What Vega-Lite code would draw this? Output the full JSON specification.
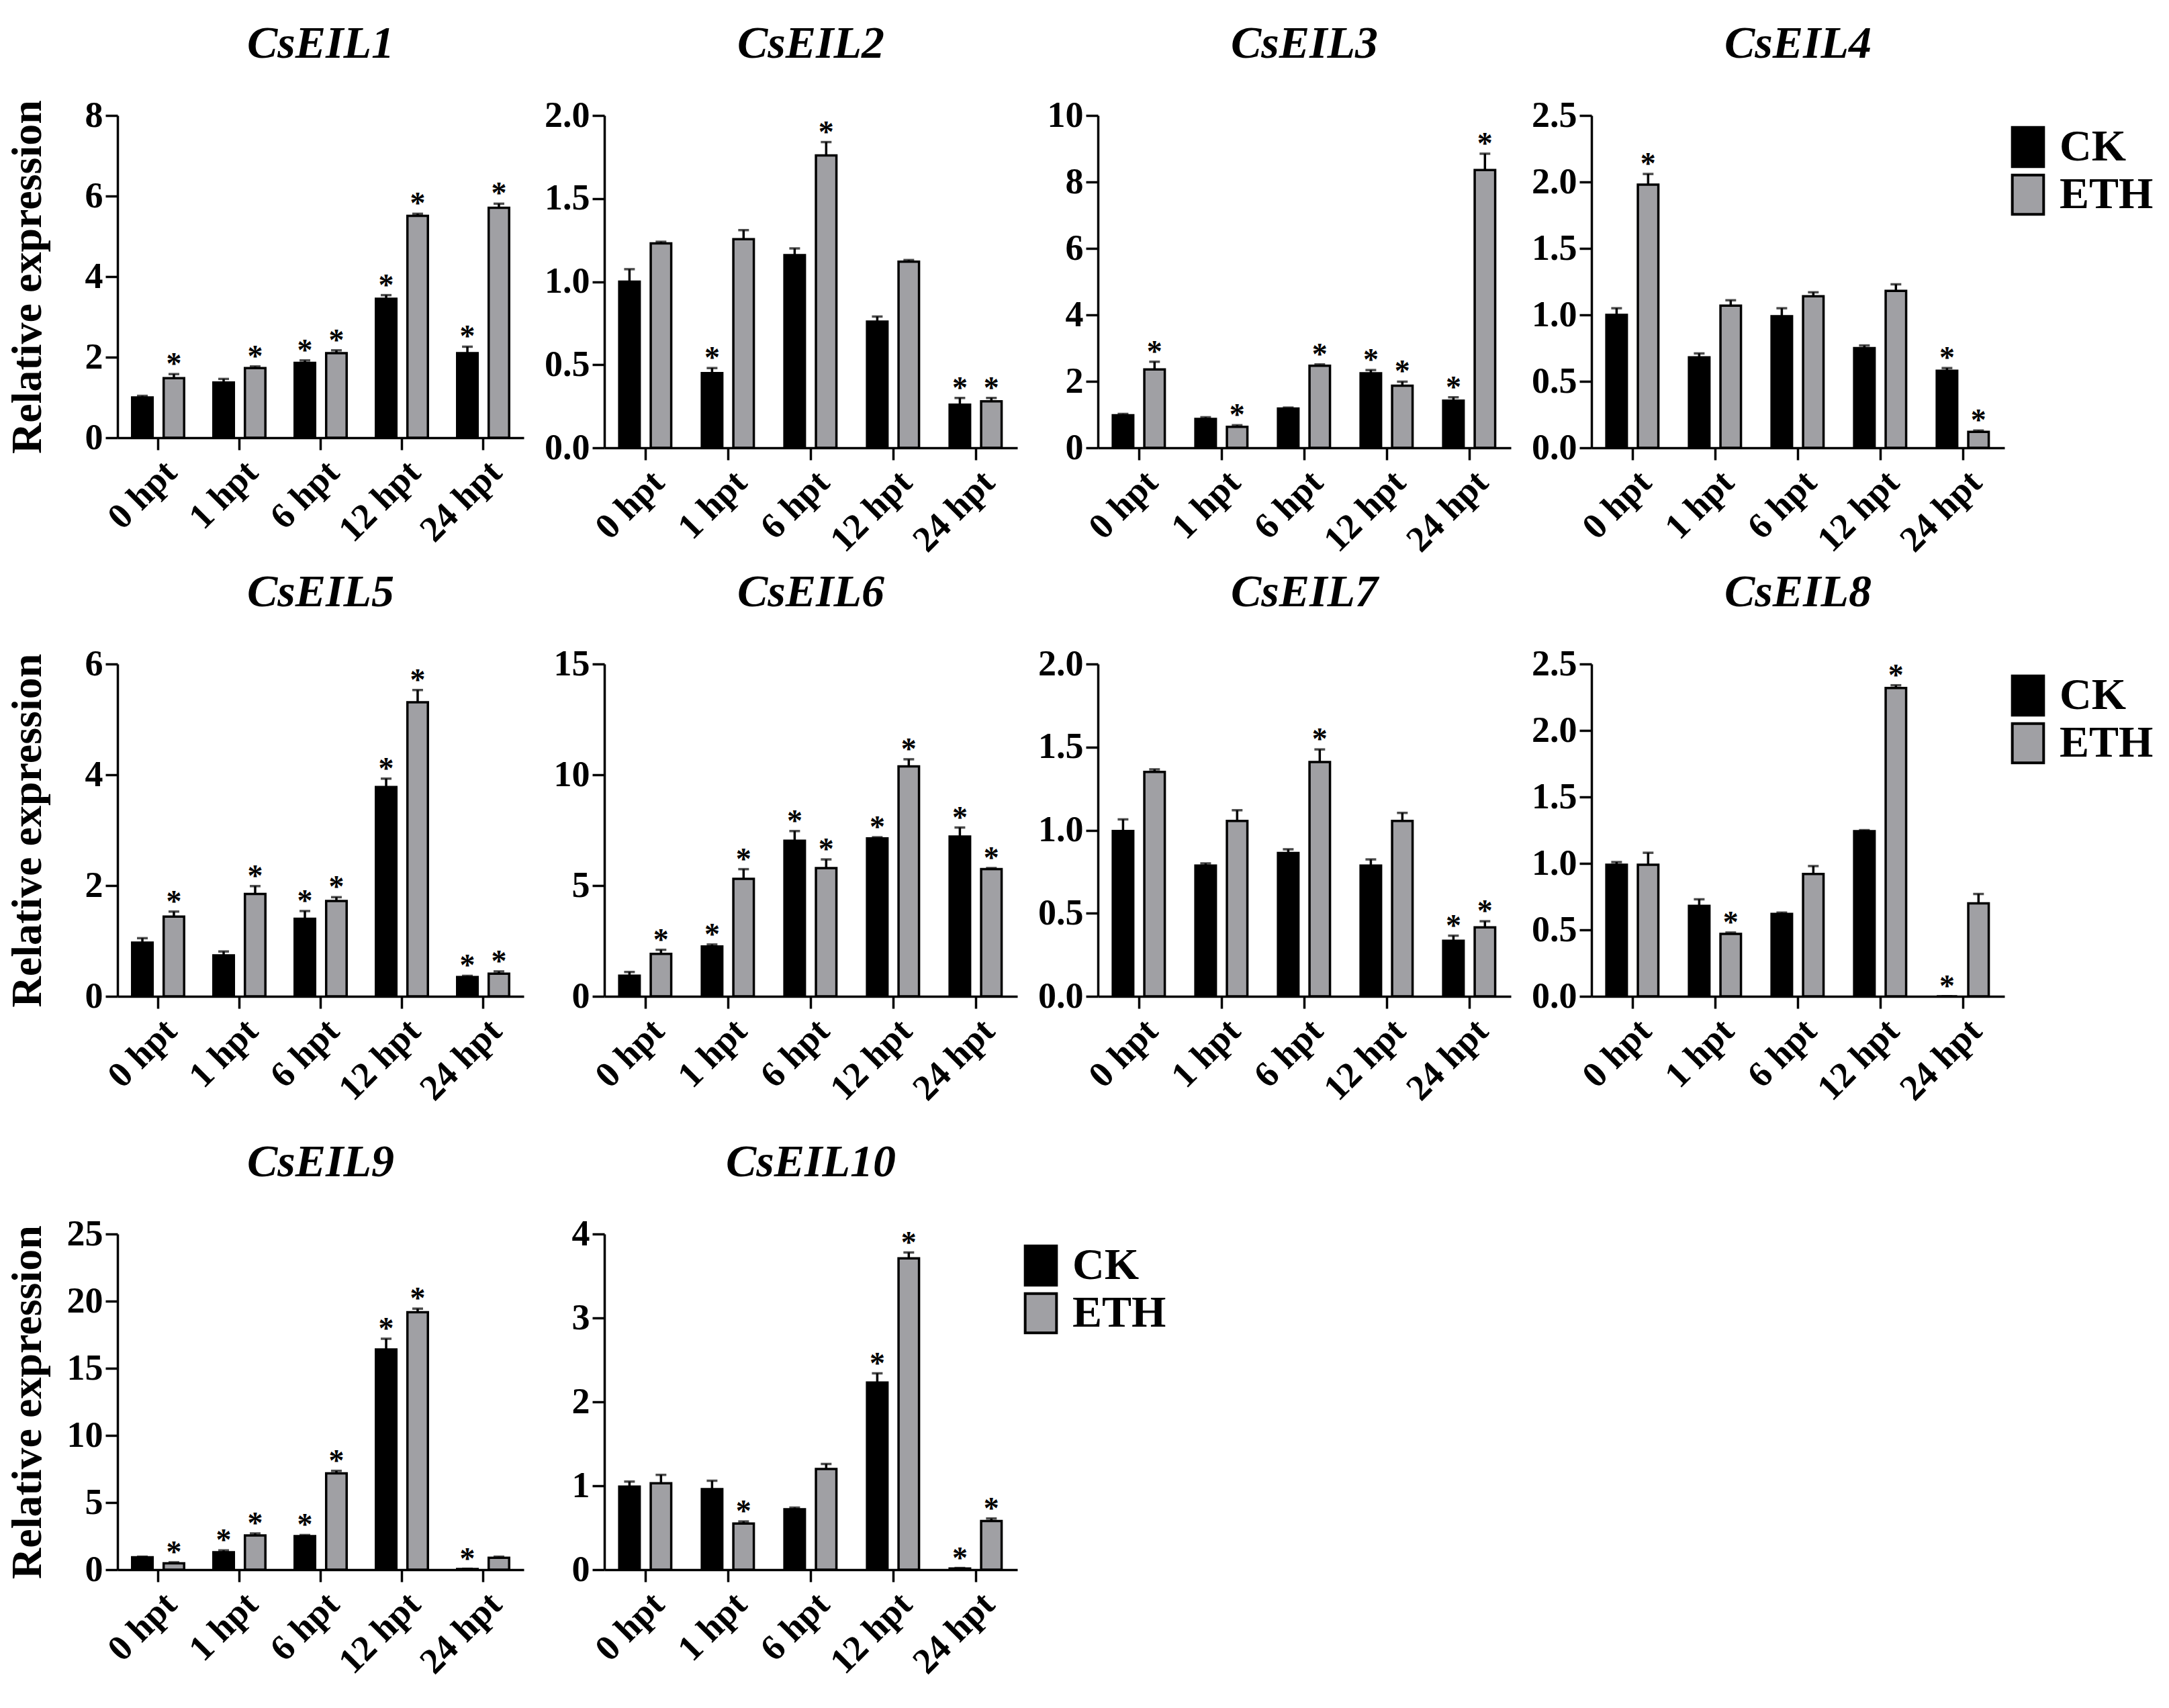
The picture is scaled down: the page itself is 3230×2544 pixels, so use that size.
{
  "$schema": "https://vega.github.io/schema/vega-lite/v6.json",
  "background": "white",
  "padding": {"top": 32, "left": 8, "right": 5, "bottom": 5},
  "data": {
    "values": [
      {"gene": "CsEIL1", "time": "0 hpt", "group": "CK", "mean": 1.0, "upper": 1.04, "sig": ""},
      {"gene": "CsEIL1", "time": "1 hpt", "group": "CK", "mean": 1.37, "upper": 1.46, "sig": ""},
      {"gene": "CsEIL1", "time": "6 hpt", "group": "CK", "mean": 1.86, "upper": 1.92, "sig": "*"},
      {"gene": "CsEIL1", "time": "12 hpt", "group": "CK", "mean": 3.45, "upper": 3.54, "sig": "*"},
      {"gene": "CsEIL1", "time": "24 hpt", "group": "CK", "mean": 2.1, "upper": 2.26, "sig": "*"},
      {"gene": "CsEIL1", "time": "0 hpt", "group": "ETH", "mean": 1.48, "upper": 1.58, "sig": "*"},
      {"gene": "CsEIL1", "time": "1 hpt", "group": "ETH", "mean": 1.73, "upper": 1.77, "sig": "*"},
      {"gene": "CsEIL1", "time": "6 hpt", "group": "ETH", "mean": 2.1, "upper": 2.17, "sig": "*"},
      {"gene": "CsEIL1", "time": "12 hpt", "group": "ETH", "mean": 5.51, "upper": 5.56, "sig": "*"},
      {"gene": "CsEIL1", "time": "24 hpt", "group": "ETH", "mean": 5.71, "upper": 5.81, "sig": "*"},

      {"gene": "CsEIL2", "time": "0 hpt", "group": "CK", "mean": 1.0, "upper": 1.075, "sig": ""},
      {"gene": "CsEIL2", "time": "1 hpt", "group": "CK", "mean": 0.45, "upper": 0.48, "sig": "*"},
      {"gene": "CsEIL2", "time": "6 hpt", "group": "CK", "mean": 1.16, "upper": 1.2, "sig": ""},
      {"gene": "CsEIL2", "time": "12 hpt", "group": "CK", "mean": 0.76, "upper": 0.79, "sig": ""},
      {"gene": "CsEIL2", "time": "24 hpt", "group": "CK", "mean": 0.26, "upper": 0.3, "sig": "*"},
      {"gene": "CsEIL2", "time": "0 hpt", "group": "ETH", "mean": 1.23, "upper": 1.24, "sig": ""},
      {"gene": "CsEIL2", "time": "1 hpt", "group": "ETH", "mean": 1.256, "upper": 1.31, "sig": ""},
      {"gene": "CsEIL2", "time": "6 hpt", "group": "ETH", "mean": 1.76, "upper": 1.84, "sig": "*"},
      {"gene": "CsEIL2", "time": "12 hpt", "group": "ETH", "mean": 1.12, "upper": 1.13, "sig": ""},
      {"gene": "CsEIL2", "time": "24 hpt", "group": "ETH", "mean": 0.28, "upper": 0.3, "sig": "*"},

      {"gene": "CsEIL3", "time": "0 hpt", "group": "CK", "mean": 0.98, "upper": 1.02, "sig": ""},
      {"gene": "CsEIL3", "time": "1 hpt", "group": "CK", "mean": 0.87, "upper": 0.92, "sig": ""},
      {"gene": "CsEIL3", "time": "6 hpt", "group": "CK", "mean": 1.18, "upper": 1.21, "sig": ""},
      {"gene": "CsEIL3", "time": "12 hpt", "group": "CK", "mean": 2.24, "upper": 2.34, "sig": "*"},
      {"gene": "CsEIL3", "time": "24 hpt", "group": "CK", "mean": 1.42, "upper": 1.52, "sig": "*"},
      {"gene": "CsEIL3", "time": "0 hpt", "group": "ETH", "mean": 2.36, "upper": 2.59, "sig": "*"},
      {"gene": "CsEIL3", "time": "1 hpt", "group": "ETH", "mean": 0.63, "upper": 0.68, "sig": "*"},
      {"gene": "CsEIL3", "time": "6 hpt", "group": "ETH", "mean": 2.47, "upper": 2.51, "sig": "*"},
      {"gene": "CsEIL3", "time": "12 hpt", "group": "ETH", "mean": 1.87, "upper": 1.99, "sig": "*"},
      {"gene": "CsEIL3", "time": "24 hpt", "group": "ETH", "mean": 8.36, "upper": 8.85, "sig": "*"},

      {"gene": "CsEIL4", "time": "0 hpt", "group": "CK", "mean": 1.0, "upper": 1.05, "sig": ""},
      {"gene": "CsEIL4", "time": "1 hpt", "group": "CK", "mean": 0.68, "upper": 0.71, "sig": ""},
      {"gene": "CsEIL4", "time": "6 hpt", "group": "CK", "mean": 0.99, "upper": 1.05, "sig": ""},
      {"gene": "CsEIL4", "time": "12 hpt", "group": "CK", "mean": 0.75, "upper": 0.77, "sig": ""},
      {"gene": "CsEIL4", "time": "24 hpt", "group": "CK", "mean": 0.58, "upper": 0.6, "sig": "*"},
      {"gene": "CsEIL4", "time": "0 hpt", "group": "ETH", "mean": 1.98, "upper": 2.06, "sig": "*"},
      {"gene": "CsEIL4", "time": "1 hpt", "group": "ETH", "mean": 1.07, "upper": 1.11, "sig": ""},
      {"gene": "CsEIL4", "time": "6 hpt", "group": "ETH", "mean": 1.14, "upper": 1.17, "sig": ""},
      {"gene": "CsEIL4", "time": "12 hpt", "group": "ETH", "mean": 1.18, "upper": 1.23, "sig": ""},
      {"gene": "CsEIL4", "time": "24 hpt", "group": "ETH", "mean": 0.12, "upper": 0.13, "sig": "*"},

      {"gene": "CsEIL5", "time": "0 hpt", "group": "CK", "mean": 0.97, "upper": 1.05, "sig": ""},
      {"gene": "CsEIL5", "time": "1 hpt", "group": "CK", "mean": 0.74, "upper": 0.81, "sig": ""},
      {"gene": "CsEIL5", "time": "6 hpt", "group": "CK", "mean": 1.4, "upper": 1.54, "sig": "*"},
      {"gene": "CsEIL5", "time": "12 hpt", "group": "CK", "mean": 3.78, "upper": 3.93, "sig": "*"},
      {"gene": "CsEIL5", "time": "24 hpt", "group": "CK", "mean": 0.35, "upper": 0.37, "sig": "*"},
      {"gene": "CsEIL5", "time": "0 hpt", "group": "ETH", "mean": 1.44, "upper": 1.53, "sig": "*"},
      {"gene": "CsEIL5", "time": "1 hpt", "group": "ETH", "mean": 1.85, "upper": 1.99, "sig": "*"},
      {"gene": "CsEIL5", "time": "6 hpt", "group": "ETH", "mean": 1.72, "upper": 1.79, "sig": "*"},
      {"gene": "CsEIL5", "time": "12 hpt", "group": "ETH", "mean": 5.31, "upper": 5.53, "sig": "*"},
      {"gene": "CsEIL5", "time": "24 hpt", "group": "ETH", "mean": 0.41, "upper": 0.45, "sig": "*"},

      {"gene": "CsEIL6", "time": "0 hpt", "group": "CK", "mean": 0.93, "upper": 1.1, "sig": ""},
      {"gene": "CsEIL6", "time": "1 hpt", "group": "CK", "mean": 2.25, "upper": 2.34, "sig": "*"},
      {"gene": "CsEIL6", "time": "6 hpt", "group": "CK", "mean": 7.02, "upper": 7.46, "sig": "*"},
      {"gene": "CsEIL6", "time": "12 hpt", "group": "CK", "mean": 7.13, "upper": 7.18, "sig": "*"},
      {"gene": "CsEIL6", "time": "24 hpt", "group": "CK", "mean": 7.21, "upper": 7.62, "sig": "*"},
      {"gene": "CsEIL6", "time": "0 hpt", "group": "ETH", "mean": 1.92, "upper": 2.1, "sig": "*"},
      {"gene": "CsEIL6", "time": "1 hpt", "group": "ETH", "mean": 5.3, "upper": 5.74, "sig": "*"},
      {"gene": "CsEIL6", "time": "6 hpt", "group": "ETH", "mean": 5.79, "upper": 6.18, "sig": "*"},
      {"gene": "CsEIL6", "time": "12 hpt", "group": "ETH", "mean": 10.38, "upper": 10.7, "sig": "*"},
      {"gene": "CsEIL6", "time": "24 hpt", "group": "ETH", "mean": 5.74, "upper": 5.79, "sig": "*"},

      {"gene": "CsEIL7", "time": "0 hpt", "group": "CK", "mean": 0.995, "upper": 1.065, "sig": ""},
      {"gene": "CsEIL7", "time": "1 hpt", "group": "CK", "mean": 0.787, "upper": 0.8, "sig": ""},
      {"gene": "CsEIL7", "time": "6 hpt", "group": "CK", "mean": 0.863, "upper": 0.885, "sig": ""},
      {"gene": "CsEIL7", "time": "12 hpt", "group": "CK", "mean": 0.787, "upper": 0.824, "sig": ""},
      {"gene": "CsEIL7", "time": "24 hpt", "group": "CK", "mean": 0.334, "upper": 0.365, "sig": "*"},
      {"gene": "CsEIL7", "time": "0 hpt", "group": "ETH", "mean": 1.351, "upper": 1.366, "sig": ""},
      {"gene": "CsEIL7", "time": "1 hpt", "group": "ETH", "mean": 1.056, "upper": 1.12, "sig": ""},
      {"gene": "CsEIL7", "time": "6 hpt", "group": "ETH", "mean": 1.41, "upper": 1.486, "sig": "*"},
      {"gene": "CsEIL7", "time": "12 hpt", "group": "ETH", "mean": 1.056, "upper": 1.104, "sig": ""},
      {"gene": "CsEIL7", "time": "24 hpt", "group": "ETH", "mean": 0.415, "upper": 0.452, "sig": "*"},

      {"gene": "CsEIL8", "time": "0 hpt", "group": "CK", "mean": 0.99, "upper": 1.01, "sig": ""},
      {"gene": "CsEIL8", "time": "1 hpt", "group": "CK", "mean": 0.68, "upper": 0.73, "sig": ""},
      {"gene": "CsEIL8", "time": "6 hpt", "group": "CK", "mean": 0.62, "upper": 0.63, "sig": ""},
      {"gene": "CsEIL8", "time": "12 hpt", "group": "CK", "mean": 1.243, "upper": 1.25, "sig": ""},
      {"gene": "CsEIL8", "time": "24 hpt", "group": "CK", "mean": 0.0, "upper": 0.0, "sig": "*"},
      {"gene": "CsEIL8", "time": "0 hpt", "group": "ETH", "mean": 0.99, "upper": 1.08, "sig": ""},
      {"gene": "CsEIL8", "time": "1 hpt", "group": "ETH", "mean": 0.47, "upper": 0.48, "sig": "*"},
      {"gene": "CsEIL8", "time": "6 hpt", "group": "ETH", "mean": 0.92, "upper": 0.98, "sig": ""},
      {"gene": "CsEIL8", "time": "12 hpt", "group": "ETH", "mean": 2.32, "upper": 2.34, "sig": "*"},
      {"gene": "CsEIL8", "time": "24 hpt", "group": "ETH", "mean": 0.7, "upper": 0.77, "sig": ""},

      {"gene": "CsEIL9", "time": "0 hpt", "group": "CK", "mean": 0.92, "upper": 0.97, "sig": ""},
      {"gene": "CsEIL9", "time": "1 hpt", "group": "CK", "mean": 1.3, "upper": 1.44, "sig": "*"},
      {"gene": "CsEIL9", "time": "6 hpt", "group": "CK", "mean": 2.5, "upper": 2.58, "sig": "*"},
      {"gene": "CsEIL9", "time": "12 hpt", "group": "CK", "mean": 16.4, "upper": 17.2, "sig": "*"},
      {"gene": "CsEIL9", "time": "24 hpt", "group": "CK", "mean": 0.05, "upper": 0.07, "sig": "*"},
      {"gene": "CsEIL9", "time": "0 hpt", "group": "ETH", "mean": 0.47, "upper": 0.55, "sig": "*"},
      {"gene": "CsEIL9", "time": "1 hpt", "group": "ETH", "mean": 2.55, "upper": 2.7, "sig": "*"},
      {"gene": "CsEIL9", "time": "6 hpt", "group": "ETH", "mean": 7.17, "upper": 7.36, "sig": "*"},
      {"gene": "CsEIL9", "time": "12 hpt", "group": "ETH", "mean": 19.17, "upper": 19.44, "sig": "*"},
      {"gene": "CsEIL9", "time": "24 hpt", "group": "ETH", "mean": 0.89, "upper": 0.97, "sig": ""},

      {"gene": "CsEIL10", "time": "0 hpt", "group": "CK", "mean": 0.99, "upper": 1.05, "sig": ""},
      {"gene": "CsEIL10", "time": "1 hpt", "group": "CK", "mean": 0.96, "upper": 1.06, "sig": ""},
      {"gene": "CsEIL10", "time": "6 hpt", "group": "CK", "mean": 0.72, "upper": 0.74, "sig": ""},
      {"gene": "CsEIL10", "time": "12 hpt", "group": "CK", "mean": 2.23, "upper": 2.34, "sig": "*"},
      {"gene": "CsEIL10", "time": "24 hpt", "group": "CK", "mean": 0.015, "upper": 0.02, "sig": "*"},
      {"gene": "CsEIL10", "time": "0 hpt", "group": "ETH", "mean": 1.03, "upper": 1.13, "sig": ""},
      {"gene": "CsEIL10", "time": "1 hpt", "group": "ETH", "mean": 0.55, "upper": 0.575, "sig": "*"},
      {"gene": "CsEIL10", "time": "6 hpt", "group": "ETH", "mean": 1.2, "upper": 1.26, "sig": ""},
      {"gene": "CsEIL10", "time": "12 hpt", "group": "ETH", "mean": 3.71, "upper": 3.78, "sig": "*"},
      {"gene": "CsEIL10", "time": "24 hpt", "group": "ETH", "mean": 0.58, "upper": 0.61, "sig": "*"}
    ]
  },
  "resolve": {"scale": {"color": "independent"}, "legend": {"color": "independent"}},
  "spacing": 16,
  "vconcat": [
    {
      "spacing": 28,
      "hconcat": [
        {
          "width": 605, "height": 480,
          "title": "CsEIL1",
          "transform": [{"filter": "datum.gene === 'CsEIL1'"}],
          "encoding": {
            "x": {"field": "time", "type": "nominal", "sort": ["0 hpt", "1 hpt", "6 hpt", "12 hpt", "24 hpt"], "scale": {"paddingInner": 0.36, "paddingOuter": 0.18}, "axis": {"title": null}},
            "xOffset": {"field": "group", "scale": {"paddingInner": 0.35}}
          },
          "layer": [
            {"mark": {"type": "bar", "stroke": "black", "strokeWidth": 3.5},
             "encoding": {"y": {"field": "mean", "type": "quantitative", "scale": {"domain": [0, 8], "nice": false}, "axis": {"values": [0, 2, 4, 6, 8], "format": "d", "title": "Relative expression"}},
                          "color": {"field": "group", "type": "nominal", "scale": {"domain": ["CK", "ETH"], "range": ["#000000", "#a0a0a4"]}, "legend": {"title": null}}}},
            {"mark": {"type": "rule", "color": "black", "strokeWidth": 3.5}, "encoding": {"y": {"field": "mean", "type": "quantitative"}, "y2": {"field": "upper"}}},
            {"mark": {"type": "tick", "orient": "horizontal", "size": 16, "thickness": 3.5, "color": "black"}, "encoding": {"y": {"field": "upper", "type": "quantitative"}}},
            {"mark": {"type": "text", "font": "Liberation Serif", "fontSize": 46, "fontWeight": "bold", "baseline": "alphabetic", "dy": 0, "color": "black"}, "encoding": {"y": {"field": "upper", "type": "quantitative"}, "text": {"field": "sig"}}}
          ]
        },
        {
          "width": 615, "height": 495,
          "title": "CsEIL2",
          "transform": [{"filter": "datum.gene === 'CsEIL2'"}],
          "encoding": {
            "x": {"field": "time", "type": "nominal", "sort": ["0 hpt", "1 hpt", "6 hpt", "12 hpt", "24 hpt"], "scale": {"paddingInner": 0.36, "paddingOuter": 0.18}, "axis": {"title": null}},
            "xOffset": {"field": "group", "scale": {"paddingInner": 0.35}}
          },
          "layer": [
            {"mark": {"type": "bar", "stroke": "black", "strokeWidth": 3.5},
             "encoding": {"y": {"field": "mean", "type": "quantitative", "scale": {"domain": [0, 2], "nice": false}, "axis": {"values": [0, 0.5, 1, 1.5, 2], "format": ".1f", "title": null}},
                          "color": {"field": "group", "type": "nominal", "scale": {"domain": ["CK", "ETH"], "range": ["#000000", "#a0a0a4"]}, "legend": {"title": null}}}},
            {"mark": {"type": "rule", "color": "black", "strokeWidth": 3.5}, "encoding": {"y": {"field": "mean", "type": "quantitative"}, "y2": {"field": "upper"}}},
            {"mark": {"type": "tick", "orient": "horizontal", "size": 16, "thickness": 3.5, "color": "black"}, "encoding": {"y": {"field": "upper", "type": "quantitative"}}},
            {"mark": {"type": "text", "font": "Liberation Serif", "fontSize": 46, "fontWeight": "bold", "baseline": "alphabetic", "dy": 0, "color": "black"}, "encoding": {"y": {"field": "upper", "type": "quantitative"}, "text": {"field": "sig"}}}
          ]
        },
        {
          "width": 615, "height": 495,
          "title": "CsEIL3",
          "transform": [{"filter": "datum.gene === 'CsEIL3'"}],
          "encoding": {
            "x": {"field": "time", "type": "nominal", "sort": ["0 hpt", "1 hpt", "6 hpt", "12 hpt", "24 hpt"], "scale": {"paddingInner": 0.36, "paddingOuter": 0.18}, "axis": {"title": null}},
            "xOffset": {"field": "group", "scale": {"paddingInner": 0.35}}
          },
          "layer": [
            {"mark": {"type": "bar", "stroke": "black", "strokeWidth": 3.5},
             "encoding": {"y": {"field": "mean", "type": "quantitative", "scale": {"domain": [0, 10], "nice": false}, "axis": {"values": [0, 2, 4, 6, 8, 10], "format": "d", "title": null}},
                          "color": {"field": "group", "type": "nominal", "scale": {"domain": ["CK", "ETH"], "range": ["#000000", "#a0a0a4"]}, "legend": {"title": null}}}},
            {"mark": {"type": "rule", "color": "black", "strokeWidth": 3.5}, "encoding": {"y": {"field": "mean", "type": "quantitative"}, "y2": {"field": "upper"}}},
            {"mark": {"type": "tick", "orient": "horizontal", "size": 16, "thickness": 3.5, "color": "black"}, "encoding": {"y": {"field": "upper", "type": "quantitative"}}},
            {"mark": {"type": "text", "font": "Liberation Serif", "fontSize": 46, "fontWeight": "bold", "baseline": "alphabetic", "dy": 0, "color": "black"}, "encoding": {"y": {"field": "upper", "type": "quantitative"}, "text": {"field": "sig"}}}
          ]
        },
        {
          "width": 615, "height": 495,
          "title": "CsEIL4",
          "transform": [{"filter": "datum.gene === 'CsEIL4'"}],
          "encoding": {
            "x": {"field": "time", "type": "nominal", "sort": ["0 hpt", "1 hpt", "6 hpt", "12 hpt", "24 hpt"], "scale": {"paddingInner": 0.36, "paddingOuter": 0.18}, "axis": {"title": null}},
            "xOffset": {"field": "group", "scale": {"paddingInner": 0.35}}
          },
          "layer": [
            {"mark": {"type": "bar", "stroke": "black", "strokeWidth": 3.5},
             "encoding": {"y": {"field": "mean", "type": "quantitative", "scale": {"domain": [0, 2.5], "nice": false}, "axis": {"values": [0, 0.5, 1, 1.5, 2, 2.5], "format": ".1f", "title": null}},
                          "color": {"field": "group", "type": "nominal", "scale": {"domain": ["CK", "ETH"], "range": ["#000000", "#a0a0a4"]}, "legend": {"title": null}}}},
            {"mark": {"type": "rule", "color": "black", "strokeWidth": 3.5}, "encoding": {"y": {"field": "mean", "type": "quantitative"}, "y2": {"field": "upper"}}},
            {"mark": {"type": "tick", "orient": "horizontal", "size": 16, "thickness": 3.5, "color": "black"}, "encoding": {"y": {"field": "upper", "type": "quantitative"}}},
            {"mark": {"type": "text", "font": "Liberation Serif", "fontSize": 46, "fontWeight": "bold", "baseline": "alphabetic", "dy": 0, "color": "black"}, "encoding": {"y": {"field": "upper", "type": "quantitative"}, "text": {"field": "sig"}}}
          ]
        }
      ]
    },
    {
      "resolve": {"scale": {"color": "independent"}, "legend": {"color": "independent"}},
      "spacing": 48,
      "vconcat": [
        {
          "spacing": 28,
          "hconcat": [
            {
              "width": 605, "height": 495,
              "title": "CsEIL5",
              "transform": [{"filter": "datum.gene === 'CsEIL5'"}],
              "encoding": {
                "x": {"field": "time", "type": "nominal", "sort": ["0 hpt", "1 hpt", "6 hpt", "12 hpt", "24 hpt"], "scale": {"paddingInner": 0.36, "paddingOuter": 0.18}, "axis": {"title": null}},
                "xOffset": {"field": "group", "scale": {"paddingInner": 0.35}}
              },
              "layer": [
                {"mark": {"type": "bar", "stroke": "black", "strokeWidth": 3.5},
                 "encoding": {"y": {"field": "mean", "type": "quantitative", "scale": {"domain": [0, 6], "nice": false}, "axis": {"values": [0, 2, 4, 6], "format": "d", "title": "Relative expression"}},
                              "color": {"field": "group", "type": "nominal", "scale": {"domain": ["CK", "ETH"], "range": ["#000000", "#a0a0a4"]}, "legend": {"title": null}}}},
                {"mark": {"type": "rule", "color": "black", "strokeWidth": 3.5}, "encoding": {"y": {"field": "mean", "type": "quantitative"}, "y2": {"field": "upper"}}},
                {"mark": {"type": "tick", "orient": "horizontal", "size": 16, "thickness": 3.5, "color": "black"}, "encoding": {"y": {"field": "upper", "type": "quantitative"}}},
                {"mark": {"type": "text", "font": "Liberation Serif", "fontSize": 46, "fontWeight": "bold", "baseline": "alphabetic", "dy": 0, "color": "black"}, "encoding": {"y": {"field": "upper", "type": "quantitative"}, "text": {"field": "sig"}}}
              ]
            },
            {
              "width": 615, "height": 495,
              "title": "CsEIL6",
              "transform": [{"filter": "datum.gene === 'CsEIL6'"}],
              "encoding": {
                "x": {"field": "time", "type": "nominal", "sort": ["0 hpt", "1 hpt", "6 hpt", "12 hpt", "24 hpt"], "scale": {"paddingInner": 0.36, "paddingOuter": 0.18}, "axis": {"title": null}},
                "xOffset": {"field": "group", "scale": {"paddingInner": 0.35}}
              },
              "layer": [
                {"mark": {"type": "bar", "stroke": "black", "strokeWidth": 3.5},
                 "encoding": {"y": {"field": "mean", "type": "quantitative", "scale": {"domain": [0, 15], "nice": false}, "axis": {"values": [0, 5, 10, 15], "format": "d", "title": null}},
                              "color": {"field": "group", "type": "nominal", "scale": {"domain": ["CK", "ETH"], "range": ["#000000", "#a0a0a4"]}, "legend": {"title": null}}}},
                {"mark": {"type": "rule", "color": "black", "strokeWidth": 3.5}, "encoding": {"y": {"field": "mean", "type": "quantitative"}, "y2": {"field": "upper"}}},
                {"mark": {"type": "tick", "orient": "horizontal", "size": 16, "thickness": 3.5, "color": "black"}, "encoding": {"y": {"field": "upper", "type": "quantitative"}}},
                {"mark": {"type": "text", "font": "Liberation Serif", "fontSize": 46, "fontWeight": "bold", "baseline": "alphabetic", "dy": 0, "color": "black"}, "encoding": {"y": {"field": "upper", "type": "quantitative"}, "text": {"field": "sig"}}}
              ]
            },
            {
              "width": 615, "height": 495,
              "title": "CsEIL7",
              "transform": [{"filter": "datum.gene === 'CsEIL7'"}],
              "encoding": {
                "x": {"field": "time", "type": "nominal", "sort": ["0 hpt", "1 hpt", "6 hpt", "12 hpt", "24 hpt"], "scale": {"paddingInner": 0.36, "paddingOuter": 0.18}, "axis": {"title": null}},
                "xOffset": {"field": "group", "scale": {"paddingInner": 0.35}}
              },
              "layer": [
                {"mark": {"type": "bar", "stroke": "black", "strokeWidth": 3.5},
                 "encoding": {"y": {"field": "mean", "type": "quantitative", "scale": {"domain": [0, 2], "nice": false}, "axis": {"values": [0, 0.5, 1, 1.5, 2], "format": ".1f", "title": null}},
                              "color": {"field": "group", "type": "nominal", "scale": {"domain": ["CK", "ETH"], "range": ["#000000", "#a0a0a4"]}, "legend": {"title": null}}}},
                {"mark": {"type": "rule", "color": "black", "strokeWidth": 3.5}, "encoding": {"y": {"field": "mean", "type": "quantitative"}, "y2": {"field": "upper"}}},
                {"mark": {"type": "tick", "orient": "horizontal", "size": 16, "thickness": 3.5, "color": "black"}, "encoding": {"y": {"field": "upper", "type": "quantitative"}}},
                {"mark": {"type": "text", "font": "Liberation Serif", "fontSize": 46, "fontWeight": "bold", "baseline": "alphabetic", "dy": 0, "color": "black"}, "encoding": {"y": {"field": "upper", "type": "quantitative"}, "text": {"field": "sig"}}}
              ]
            },
            {
              "width": 615, "height": 495,
              "title": "CsEIL8",
              "transform": [{"filter": "datum.gene === 'CsEIL8'"}],
              "encoding": {
                "x": {"field": "time", "type": "nominal", "sort": ["0 hpt", "1 hpt", "6 hpt", "12 hpt", "24 hpt"], "scale": {"paddingInner": 0.36, "paddingOuter": 0.18}, "axis": {"title": null}},
                "xOffset": {"field": "group", "scale": {"paddingInner": 0.35}}
              },
              "layer": [
                {"mark": {"type": "bar", "stroke": "black", "strokeWidth": 3.5},
                 "encoding": {"y": {"field": "mean", "type": "quantitative", "scale": {"domain": [0, 2.5], "nice": false}, "axis": {"values": [0, 0.5, 1, 1.5, 2, 2.5], "format": ".1f", "title": null}},
                              "color": {"field": "group", "type": "nominal", "scale": {"domain": ["CK", "ETH"], "range": ["#000000", "#a0a0a4"]}, "legend": {"title": null}}}},
                {"mark": {"type": "rule", "color": "black", "strokeWidth": 3.5}, "encoding": {"y": {"field": "mean", "type": "quantitative"}, "y2": {"field": "upper"}}},
                {"mark": {"type": "tick", "orient": "horizontal", "size": 16, "thickness": 3.5, "color": "black"}, "encoding": {"y": {"field": "upper", "type": "quantitative"}}},
                {"mark": {"type": "text", "font": "Liberation Serif", "fontSize": 46, "fontWeight": "bold", "baseline": "alphabetic", "dy": 0, "color": "black"}, "encoding": {"y": {"field": "upper", "type": "quantitative"}, "text": {"field": "sig"}}}
              ]
            }
          ]
        },
        {
          "spacing": 28,
          "hconcat": [
            {
              "width": 605, "height": 500,
              "title": "CsEIL9",
              "transform": [{"filter": "datum.gene === 'CsEIL9'"}],
              "encoding": {
                "x": {"field": "time", "type": "nominal", "sort": ["0 hpt", "1 hpt", "6 hpt", "12 hpt", "24 hpt"], "scale": {"paddingInner": 0.36, "paddingOuter": 0.18}, "axis": {"title": null}},
                "xOffset": {"field": "group", "scale": {"paddingInner": 0.35}}
              },
              "layer": [
                {"mark": {"type": "bar", "stroke": "black", "strokeWidth": 3.5},
                 "encoding": {"y": {"field": "mean", "type": "quantitative", "scale": {"domain": [0, 25], "nice": false}, "axis": {"values": [0, 5, 10, 15, 20, 25], "format": "d", "title": "Relative expression"}},
                              "color": {"field": "group", "type": "nominal", "scale": {"domain": ["CK", "ETH"], "range": ["#000000", "#a0a0a4"]}, "legend": {"title": null}}}},
                {"mark": {"type": "rule", "color": "black", "strokeWidth": 3.5}, "encoding": {"y": {"field": "mean", "type": "quantitative"}, "y2": {"field": "upper"}}},
                {"mark": {"type": "tick", "orient": "horizontal", "size": 16, "thickness": 3.5, "color": "black"}, "encoding": {"y": {"field": "upper", "type": "quantitative"}}},
                {"mark": {"type": "text", "font": "Liberation Serif", "fontSize": 46, "fontWeight": "bold", "baseline": "alphabetic", "dy": 0, "color": "black"}, "encoding": {"y": {"field": "upper", "type": "quantitative"}, "text": {"field": "sig"}}}
              ]
            },
            {
              "width": 615, "height": 500,
              "title": "CsEIL10",
              "transform": [{"filter": "datum.gene === 'CsEIL10'"}],
              "encoding": {
                "x": {"field": "time", "type": "nominal", "sort": ["0 hpt", "1 hpt", "6 hpt", "12 hpt", "24 hpt"], "scale": {"paddingInner": 0.36, "paddingOuter": 0.18}, "axis": {"title": null}},
                "xOffset": {"field": "group", "scale": {"paddingInner": 0.35}}
              },
              "layer": [
                {"mark": {"type": "bar", "stroke": "black", "strokeWidth": 3.5},
                 "encoding": {"y": {"field": "mean", "type": "quantitative", "scale": {"domain": [0, 4], "nice": false}, "axis": {"values": [0, 1, 2, 3, 4], "format": "d", "title": null}},
                              "color": {"field": "group", "type": "nominal", "scale": {"domain": ["CK", "ETH"], "range": ["#000000", "#a0a0a4"]}, "legend": {"title": null}}}},
                {"mark": {"type": "rule", "color": "black", "strokeWidth": 3.5}, "encoding": {"y": {"field": "mean", "type": "quantitative"}, "y2": {"field": "upper"}}},
                {"mark": {"type": "tick", "orient": "horizontal", "size": 16, "thickness": 3.5, "color": "black"}, "encoding": {"y": {"field": "upper", "type": "quantitative"}}},
                {"mark": {"type": "text", "font": "Liberation Serif", "fontSize": 46, "fontWeight": "bold", "baseline": "alphabetic", "dy": 0, "color": "black"}, "encoding": {"y": {"field": "upper", "type": "quantitative"}, "text": {"field": "sig"}}}
              ]
            }
          ]
        }
      ]
    }
  ],
  "config": {
    "view": {"stroke": null},
    "font": "Liberation Serif",
    "title": {"font": "Liberation Serif", "fontSize": 68, "fontStyle": "italic", "fontWeight": "bold", "color": "black", "offset": 45, "anchor": "middle"},
    "axis": {
      "grid": false,
      "domainColor": "black", "domainWidth": 3.5,
      "tickColor": "black", "tickWidth": 3.5, "tickSize": 18,
      "labelFont": "Liberation Serif", "labelFontSize": 54, "labelFontWeight": "bold", "labelColor": "black",
      "titleFont": "Liberation Serif", "titleFontSize": 64, "titleFontWeight": "bold", "titleColor": "black"
    },
    "axisX": {"labelAngle": -45, "labelPadding": 6},
    "axisY": {"minExtent": 92, "maxExtent": 92, "titlePadding": 10, "labelPadding": 4},
    "legend": {
      "orient": "right", "offset": -12, "padding": 14,
      "labelFont": "Liberation Serif", "labelFontSize": 66, "labelFontWeight": "bold", "labelColor": "black", "labelOffset": 14,
      "symbolType": "M-0.8,-1H0.8V1H-0.8Z", "symbolSize": 3400, "symbolStrokeColor": "black", "symbolStrokeWidth": 4, "symbolOpacity": 1,
      "rowPadding": -8
    }
  }
}
